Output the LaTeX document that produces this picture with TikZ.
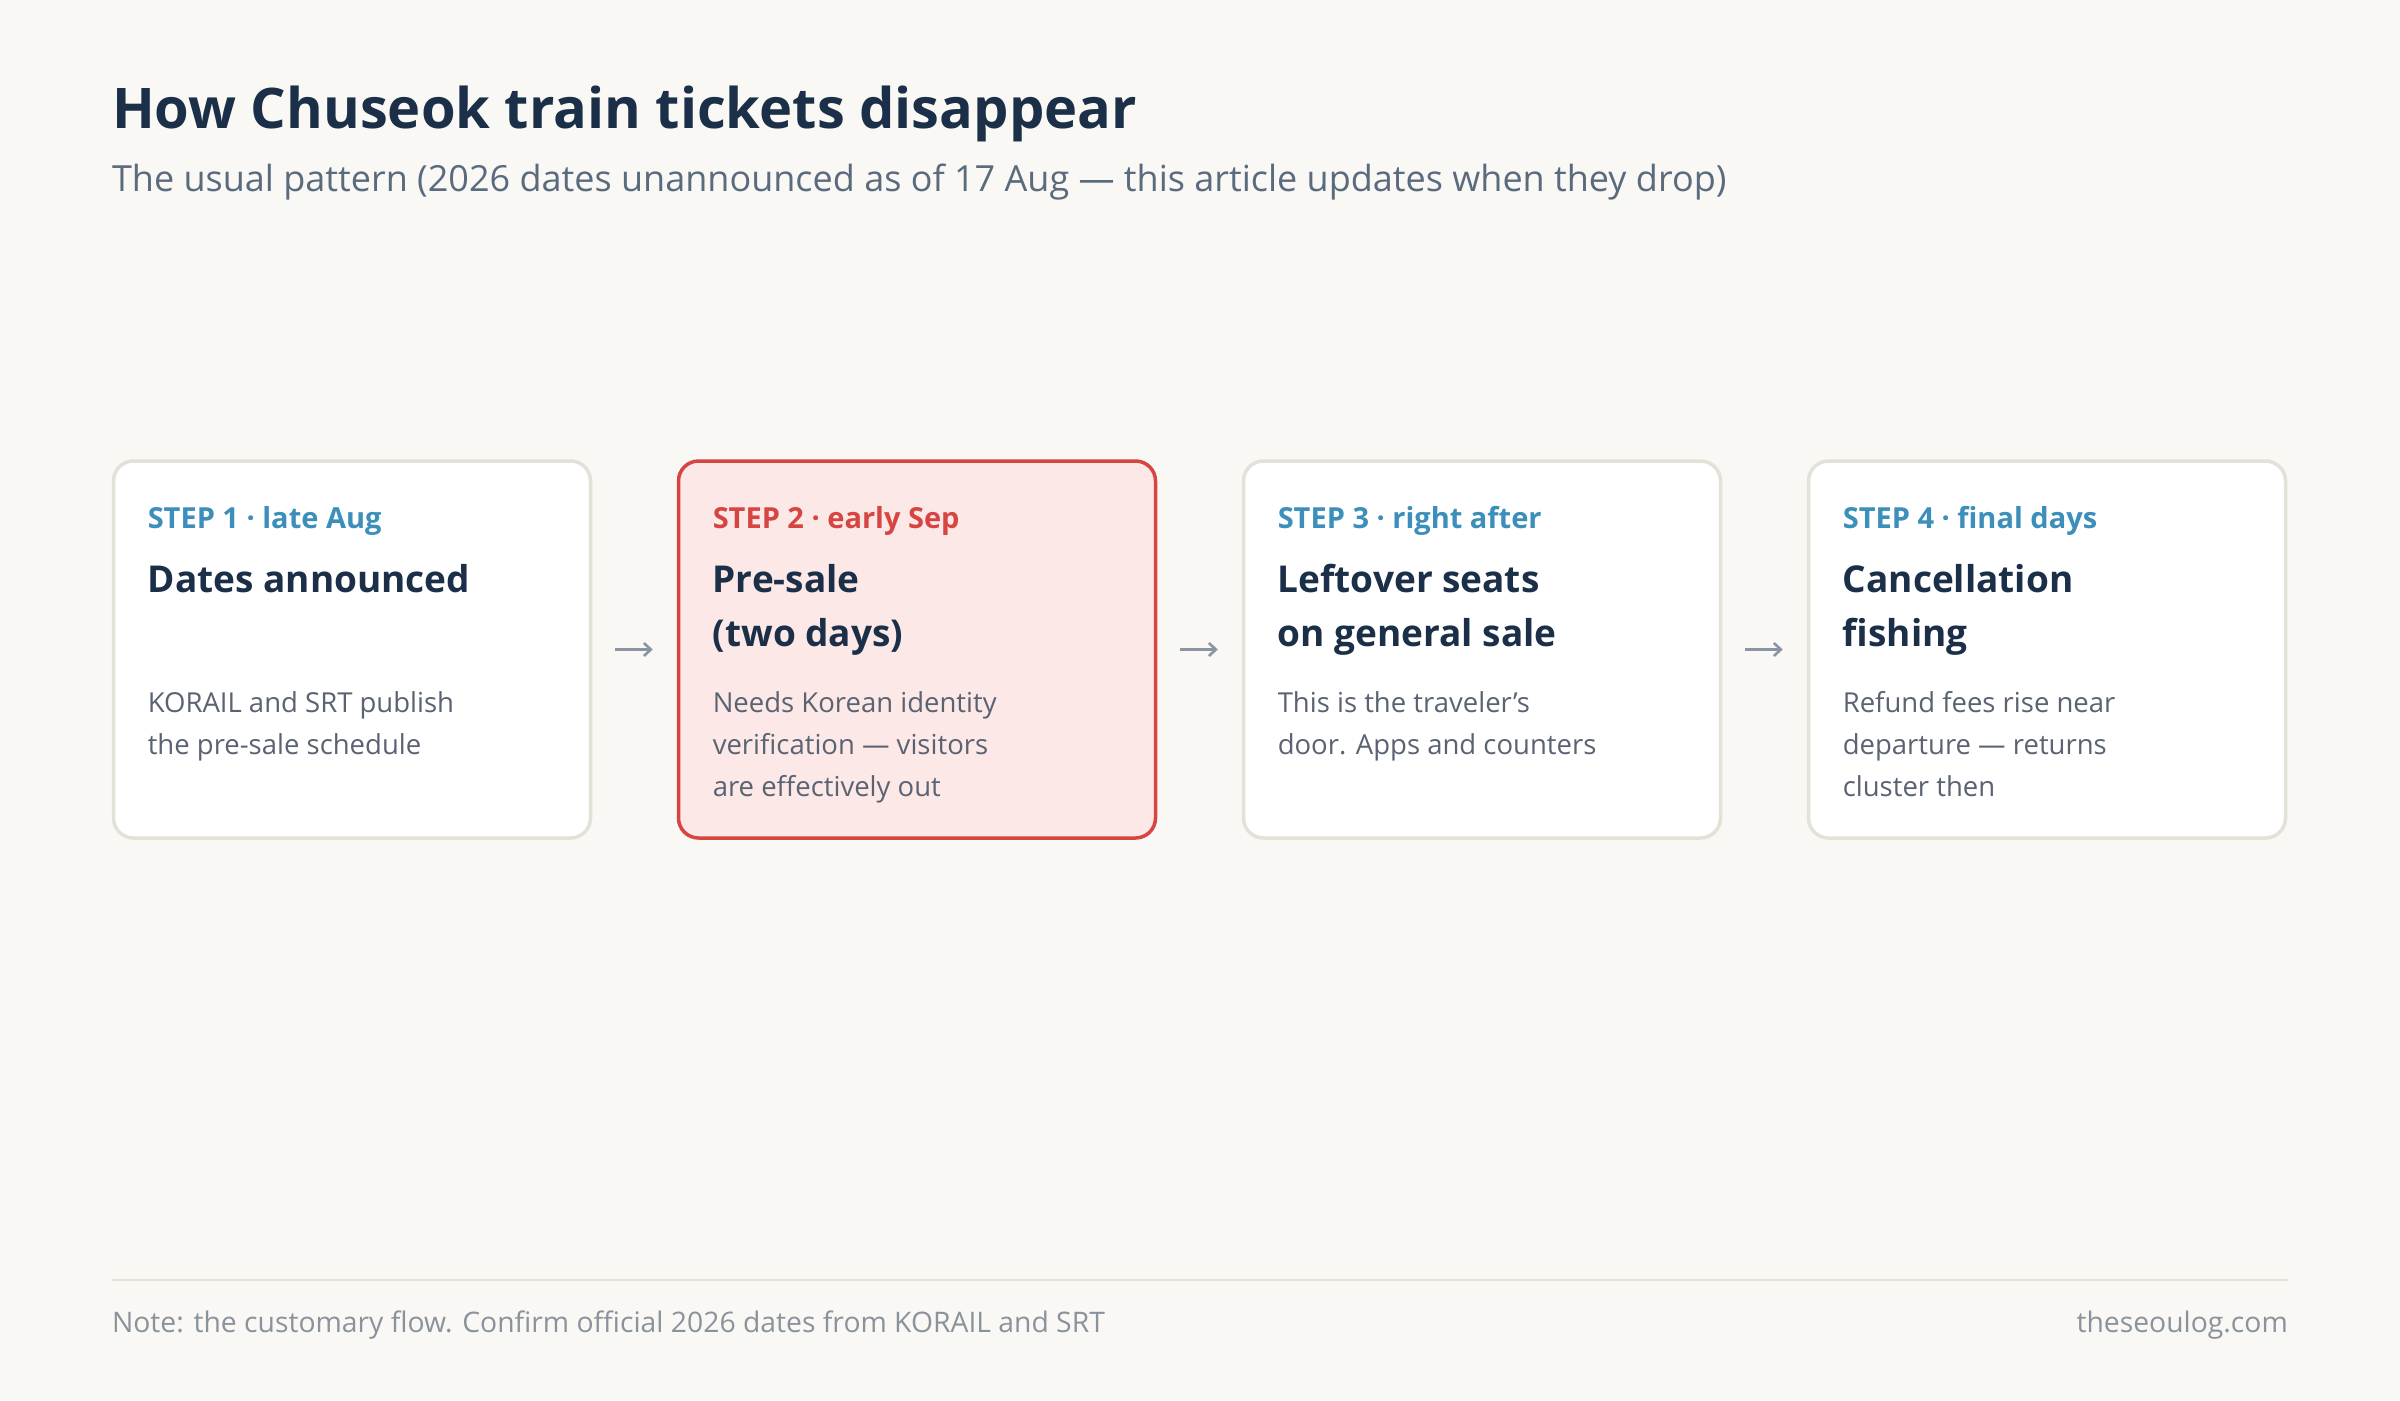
\documentclass[tikz,border=0pt]{standalone}
\usepackage{fontspec}
\setmainfont{Open Sans}
\usetikzlibrary{arrows.meta}
\definecolor{bg}{HTML}{F9F8F4}
\definecolor{navy}{HTML}{1B3048}
\definecolor{subgray}{HTML}{5B6B7E}
\definecolor{bodygray}{HTML}{5A6372}
\definecolor{footgray}{HTML}{8A929C}
\definecolor{cardline}{HTML}{E4E1D8}
\definecolor{stepblue}{HTML}{3B8FBA}
\definecolor{hotred}{HTML}{D64541}
\definecolor{hotfill}{HTML}{FCE8E6}
\definecolor{arrowgray}{HTML}{8A95A3}
\newcommand{\cardlines}[1]{\begin{tabular}[t]{@{}l@{}}#1\end{tabular}}
\begin{document}
\begin{tikzpicture}[x=1pt,y=-1pt,
  card/.style={draw=cardline,line width=3.5pt,fill=white,rounded corners=20pt,
    minimum width=477pt,minimum height=377pt,inner sep=0pt},
  hotcard/.style={card,draw=hotred,fill=hotfill},
  txt/.style={anchor=base west,inner sep=0pt,outer sep=0pt},
  steplabel/.style={txt,font=\fontsize{29}{32}\selectfont\bfseries,text=stepblue},
  heading/.style={txt,font=\fontsize{37}{54}\selectfont\bfseries,text=navy},
  body/.style={txt,font=\fontsize{27.5}{42}\selectfont,text=bodygray},
  flow/.style={draw=arrowgray,line width=2.6pt,-{Straight Barb[length=7pt,width=13pt]},
    shorten <=23pt,shorten >=24pt}
]
\fill[bg] (0,0) rectangle (2400,1400);
\useasboundingbox (0,0) rectangle (2400,1400);

\node[txt,font=\fontsize{56}{60}\selectfont\bfseries,text=navy] (title) at (112,128)
  {How Chuseok train tickets disappear};
\node[txt,font=\fontsize{36}{40}\selectfont,text=subgray] (subtitle) at (112,191)
  {The usual pattern (2026 dates unannounced as of 17 Aug — this article updates when they drop)};

% cards
\node[card] (b1) at (352,649.5) {};
\node[hotcard] (b2) at (917,649.5) {};
\node[card] (b3) at (1482,649.5) {};
\node[card] (b4) at (2047,649.5) {};

\node[steplabel] (s1) at ([xshift=36pt,yshift=-69pt]b1.north west) {STEP 1 · late Aug};
\node[heading] (h1) at ([xshift=36pt,yshift=-133pt]b1.north west) {\cardlines{Dates announced}};
\node[body] (d1) at ([xshift=36pt,yshift=-253pt]b1.north west) {\cardlines{KORAIL and SRT publish\\the pre-sale schedule}};

\node[steplabel,text=hotred] (s2) at ([xshift=36pt,yshift=-69pt]b2.north west) {STEP 2 · early Sep};
\node[heading] (h2) at ([xshift=36pt,yshift=-133pt]b2.north west) {\cardlines{Pre-sale\\(two days)}};
\node[body] (d2) at ([xshift=36pt,yshift=-253pt]b2.north west) {\cardlines{Needs Korean identity\\verification — visitors\\are effectively out}};

\node[steplabel] (s3) at ([xshift=36pt,yshift=-69pt]b3.north west) {STEP 3 · right after};
\node[heading] (h3) at ([xshift=36pt,yshift=-133pt]b3.north west) {\cardlines{Leftover seats\\on general sale}};
\node[body] (d3) at ([xshift=36pt,yshift=-253pt]b3.north west) {\cardlines{This is the traveler’s\\door. Apps and counters}};

\node[steplabel] (s4) at ([xshift=36pt,yshift=-69pt]b4.north west) {STEP 4 · final days};
\node[heading] (h4) at ([xshift=36pt,yshift=-133pt]b4.north west) {\cardlines{Cancellation\\fishing}};
\node[body] (d4) at ([xshift=36pt,yshift=-253pt]b4.north west) {\cardlines{Refund fees rise near\\departure — returns\\cluster then}};

\draw[flow] (b1) -- (b2);
\draw[flow] (b2) -- (b3);
\draw[flow] (b3) -- (b4);

% footer
\coordinate (fl) at (112,1280);
\coordinate (fr) at (2288,1280);
\draw[cardline,line width=2pt] (fl) -- (fr);
\node[txt,font=\fontsize{28.3}{32}\selectfont,text=footgray] (note) at (112,1332)
  {Note: the customary flow. Confirm official 2026 dates from KORAIL and SRT};
\node[anchor=base east,inner sep=0pt,font=\fontsize{28.3}{32}\selectfont,text=footgray] (site) at (2288,1332)
  {theseoulog.com};
\end{tikzpicture}
\end{document}
